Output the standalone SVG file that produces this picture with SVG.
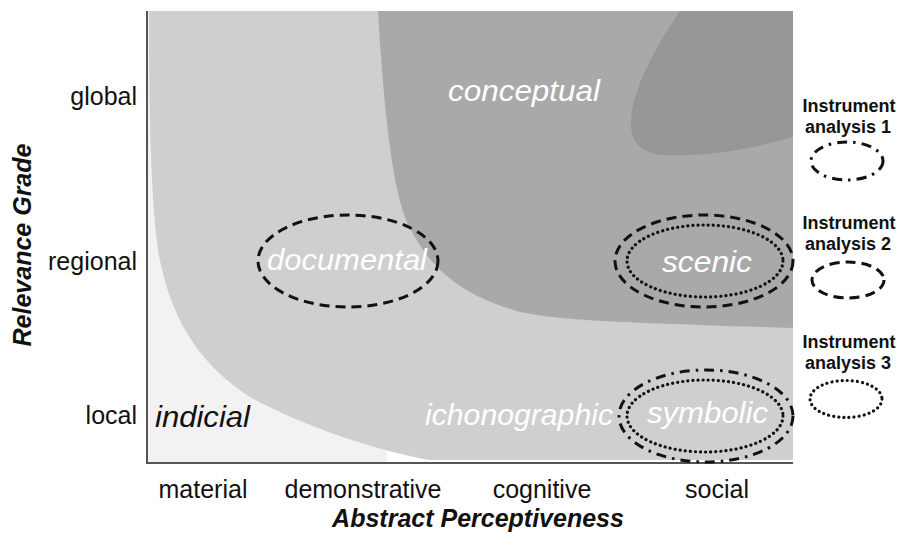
<svg xmlns="http://www.w3.org/2000/svg" width="899" height="547" viewBox="0 0 899 547">
  <style>
    .axis { font-family: "Liberation Sans", Arial, sans-serif; font-size: 25px; fill: #111; }
    .title { font-family: "Liberation Sans", Arial, sans-serif; font-size: 25px; font-weight: bold; font-style: italic; fill: #111; }
    .zone { font-family: "Liberation Sans", Arial, sans-serif; font-size: 30px; font-style: italic; fill: #fff; }
    .legend { font-family: "Liberation Sans", Arial, sans-serif; font-size: 18px; font-weight: bold; fill: #111; text-anchor: middle; }
    .ring { fill: none; stroke: #111; }
    .dash { stroke-width: 3; stroke-dasharray: 10 6; }
    .dashdot { stroke-width: 3; stroke-dasharray: 10 6 2.5 6; }
    .dot { stroke-width: 3.2; stroke-dasharray: 0.1 5; stroke-linecap: round; }
  </style>

  <rect width="899" height="547" fill="#fff"/>

  <!-- plot background -->
  <g id="plot">
    <rect x="147" y="11" width="240" height="452" fill="#f2f2f2"/>
    <path id="zone-light" d="M149,11 L793,11 L793,460 L430,460 C380,452 300,425 250,397 C200,365 170,320 158,250 C151,200 149,120 149,11 Z" fill="#cfcfcf"/>
    <path id="zone-medium" d="M378,11 C385,130 395,200 410,228 C430,268 460,295 520,312 C560,320 600,322 793,328 L793,11 Z" fill="#a9a9a9"/>
    <path id="zone-dark" d="M680,11 C660,40 640,75 633,105 C628,130 630,150 660,155 C700,157 750,150 793,137 L793,11 Z" fill="#979797"/>
  </g>

  <!-- axes -->
  <g id="axes" stroke="#555" stroke-width="2" fill="none">
    <line x1="147" y1="11" x2="147" y2="464"/>
    <line x1="146" y1="463" x2="793" y2="463"/>
  </g>

  <!-- zone labels -->
  <g id="labels">
    <text class="zone" x="448" y="101" textLength="152" lengthAdjust="spacingAndGlyphs">conceptual</text>
    <text class="zone" x="267" y="270" textLength="160" lengthAdjust="spacingAndGlyphs">documental</text>
    <text class="zone" x="662" y="272" textLength="90" lengthAdjust="spacingAndGlyphs">scenic</text>
    <text class="zone" x="425" y="425" textLength="188" lengthAdjust="spacingAndGlyphs">ichonographic</text>
    <text class="zone" x="647" y="423" textLength="121" lengthAdjust="spacingAndGlyphs">symbolic</text>
    <text class="zone" x="155" y="427" textLength="95" lengthAdjust="spacingAndGlyphs" style="fill:#111">indicial</text>
  </g>

  <!-- instrument rings -->
  <g id="connectors">
    <ellipse class="ring dash" cx="348" cy="261" rx="90" ry="46"/>
    <ellipse class="ring dash" cx="704" cy="261" rx="89" ry="46"/>
    <ellipse class="ring dot" cx="705" cy="261" rx="78" ry="36"/>
    <ellipse class="ring dashdot" cx="706" cy="416" rx="87" ry="46"/>
    <ellipse class="ring dot" cx="705" cy="416" rx="78" ry="36"/>
  </g>

  <!-- axis ticks -->
  <g id="y-axis" class="axis" text-anchor="end">
    <text x="137" y="105">global</text>
    <text x="137" y="270">regional</text>
    <text x="137" y="424">local</text>
  </g>
  <g id="x-axis" class="axis" text-anchor="middle">
    <text x="203" y="498">material</text>
    <text x="363" y="498">demonstrative</text>
    <text x="542" y="498">cognitive</text>
    <text x="717" y="498">social</text>
  </g>
  <text id="x-title" class="title" x="478" y="527" text-anchor="middle">Abstract Perceptiveness</text>
  <text id="y-title" class="title" transform="translate(31,245) rotate(-90)" text-anchor="middle">Relevance Grade</text>

  <!-- legend -->
  <g id="legend-1">
    <text class="legend" x="849" y="112">Instrument</text>
    <text class="legend" x="848" y="133">analysis 1</text>
    <ellipse class="ring dashdot" cx="847" cy="161" rx="36" ry="19"/>
  </g>
  <g id="legend-2">
    <text class="legend" x="849" y="229">Instrument</text>
    <text class="legend" x="848" y="250">analysis 2</text>
    <ellipse class="ring dash" cx="848" cy="280" rx="36" ry="18"/>
  </g>
  <g id="legend-3">
    <text class="legend" x="849" y="348">Instrument</text>
    <text class="legend" x="848" y="369">analysis 3</text>
    <ellipse class="ring dot" cx="846" cy="399" rx="36" ry="18.5"/>
  </g>
</svg>
